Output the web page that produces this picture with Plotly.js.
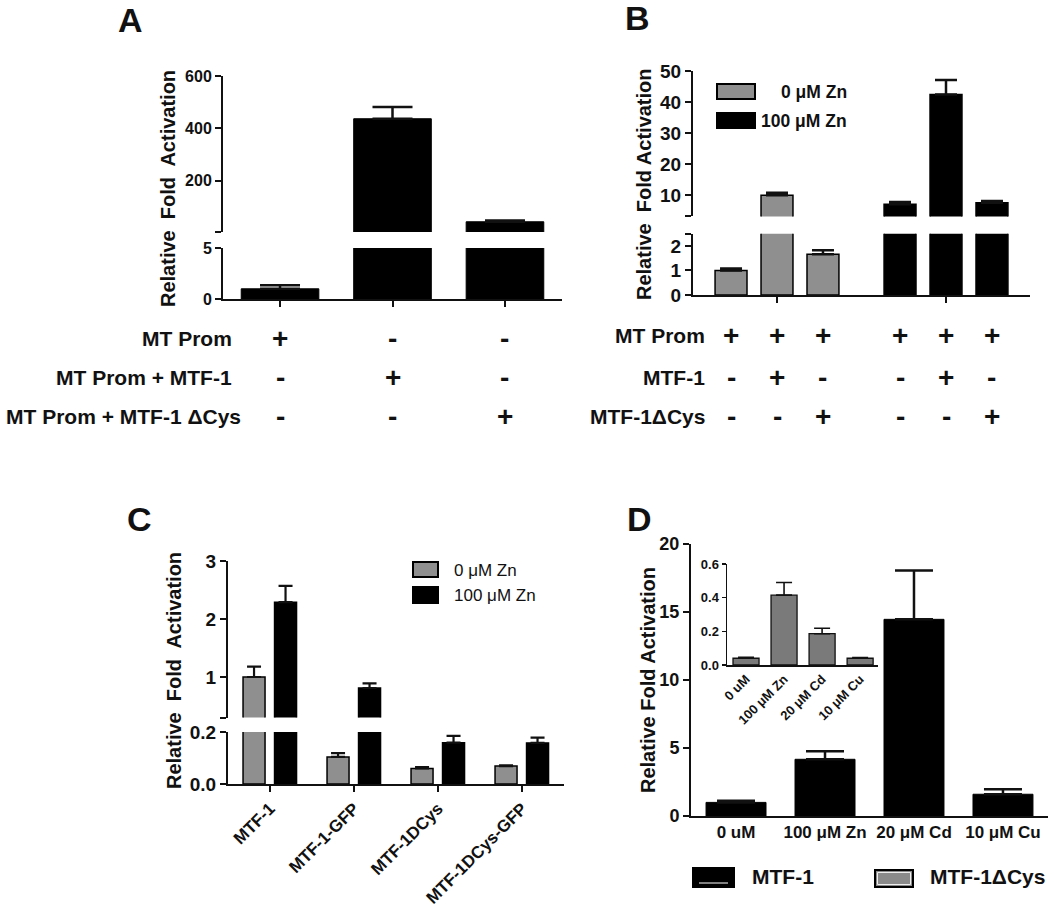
<!DOCTYPE html>
<html>
<head>
<meta charset="utf-8">
<script src="https://cdn.plot.ly/plotly-3.0.1.min.js"></script>
<style>html,body{margin:0;padding:0;background:#fff;}#chart{width:1050px;height:911px;}</style>
</head>
<body>
<div id="chart"></div>
<script>
// ---------- DATA ----------
// Panel A
const aCats = ['MT Prom', 'MT Prom + MTF-1', 'MT Prom + MTF-1 ΔCys'];
const aVals = [1.0, 437, 44];
const aErr = [0.34, 45, 4.5];
const aRowLabels = ['MT Prom', 'MT Prom + MTF-1', 'MT Prom + MTF-1 ΔCys'];
const aSigns = [['+', '-', '-'], ['-', '+', '-'], ['-', '-', '+']];

// Panel B
const bGroups = ['0 μM Zn', '100 μM Zn'];
const bConds = ['MT Prom', 'MTF-1', 'MTF-1ΔCys'];
const bZn0 = [1.0, 9.9, 1.66];
const bZn0Err = [0.08, 0.85, 0.16];
const bZn100 = [7.0, 42.4, 7.5];
const bZn100Err = [0.74, 4.7, 0.6];
const bRowLabels = ['MT Prom', 'MTF-1', 'MTF-1ΔCys'];
const bSigns = [['+', '+', '+'], ['-', '+', '-'], ['-', '-', '+']];

// Panel C
const cCats = ['MTF-1', 'MTF-1-GFP', 'MTF-1DCys', 'MTF-1DCys-GFP'];
const cSeries = ['0 μM Zn', '100 μM Zn'];
const cZn0 = [1.0, 0.104, 0.06, 0.069];
const cZn0Err = [0.18, 0.015, 0.005, 0.003];
const cZn100 = [2.29, 0.81, 0.159, 0.158];
const cZn100Err = [0.28, 0.08, 0.026, 0.02];

// Panel D
const dCats = ['0 uM', '100 μM Zn', '20 μM Cd', '10 μM Cu'];
const dVals = [1.0, 4.17, 14.46, 1.6];
const dErr = [0.12, 0.6, 3.6, 0.36];
const dInsetVals = [0.04, 0.415, 0.186, 0.04];
const dInsetErr = [0.006, 0.075, 0.032, 0.004];
const dLegend = ['MTF-1', 'MTF-1ΔCys'];

// ---------- STYLE / LAYOUT HELPERS ----------
const W = 1050, H = 911;
const px = x => x / W;
const py = y => 1 - y / H;
const FONT = 'Liberation Sans, Arial, Helvetica, sans-serif';
const GRAY = '#8f8f8f';
const INSET_GRAY = '#7a7a7a';
const INK = '#111';

// upper segment of a broken axis only shows values above its lower limit
const above = (vals, lo) => vals.map(v => (v > lo ? v : null));

function errUp(arr, cap, thick) {
  return {type: 'data', symmetric: false, array: arr, arrayminus: arr.map(() => 0),
          color: INK, thickness: thick || 2.5, width: cap};
}
function yAxis(top, bottom, range, tickvals, ticktext, size, anchor, extra) {
  return Object.assign({
    domain: [py(bottom), py(top)], range: range, anchor: anchor,
    tickmode: 'array', tickvals: tickvals, ticktext: ticktext,
    showline: true, linecolor: INK, linewidth: 2, ticks: 'outside', ticklen: 6,
    tickwidth: 2, tickcolor: INK, showgrid: false, zeroline: false, fixedrange: true,
    tickfont: {family: FONT, size: size, weight: 'bold', color: INK}
  }, extra || {});
}
function xAxis(left, right, range, anchor, extra) {
  return Object.assign({
    domain: [px(left), px(right)], range: range, anchor: anchor, type: 'category',
    showline: true, linecolor: INK, linewidth: 2, ticks: 'outside', ticklen: 6,
    tickwidth: 2, tickcolor: INK, showgrid: false, zeroline: false, fixedrange: true,
    showticklabels: false, tickfont: {family: FONT, size: 16, weight: 'bold', color: INK}
  }, extra || {});
}

// ---------- TRACES ----------
const traces = [];
// A (broken axis: lower y9, upper y10)
const aLo = 5;
[['y9', aVals], ['y10', above(aVals, aLo)]].forEach(([ya, v]) => traces.push({
  type: 'bar', x: aCats, y: v, xaxis: 'x7', yaxis: ya, width: 0.69,
  marker: {color: '#000', line: {color: '#000', width: 1}},
  error_y: errUp(aErr, 20), hoverinfo: 'skip'
}));
// B (broken axis: lower y3, upper y4)
const bLo = 3.1;
const bRel = [-0.272, 0, 0.272];
const bW = 0.189;
bConds.forEach((c, j) => {
  const v = [bZn0[j], bZn100[j]];
  [['y3', v], ['y4', above(v, bLo)]].forEach(([ya, yy]) => traces.push({
    type: 'bar', name: c, x: bGroups, y: yy, xaxis: 'x3', yaxis: ya,
    width: bW, offset: bRel[j] - bW / 2,
    marker: {color: [GRAY, '#000'], line: {color: '#000', width: 1.5}},
    error_y: errUp([bZn0Err[j], bZn100Err[j]], 11), hoverinfo: 'skip'
  }));
});
// C (broken axis: lower y5, upper y6)
const cLo = 0.3;
const cW = 0.262;
const cDefs = [
  {name: cSeries[0], y: cZn0, err: cZn0Err, color: GRAY, rel: -0.19},
  {name: cSeries[1], y: cZn100, err: cZn100Err, color: '#000', rel: 0.185}
];
cDefs.forEach(s => [['y5', s.y], ['y6', above(s.y, cLo)]].forEach(([ya, yy]) => traces.push({
  type: 'bar', name: s.name, x: cCats, y: yy, xaxis: 'x4', yaxis: ya,
  width: cW, offset: s.rel - cW / 2,
  marker: {color: s.color, line: {color: '#000', width: 1.5}},
  error_y: errUp(s.err, 7, 2.2), hoverinfo: 'skip'
})));
// D main
traces.push({
  type: 'bar', name: dLegend[0], x: dCats, y: dVals, xaxis: 'x5', yaxis: 'y7', width: 0.674,
  marker: {color: '#000', line: {color: '#000', width: 1}},
  error_y: errUp(dErr, 19), hoverinfo: 'skip'
});
// D inset
traces.push({
  type: 'bar', name: dLegend[1], x: dCats, y: dInsetVals, xaxis: 'x6', yaxis: 'y8', width: 0.684,
  marker: {color: INSET_GRAY, line: {color: '#111', width: 1.3}},
  error_y: errUp(dInsetErr, 8, 1.6), hoverinfo: 'skip'
});

// ---------- ANNOTATIONS ----------
const ann = [];
function txt(x, y, text, size, opts) {
  ann.push(Object.assign({
    xref: 'paper', yref: 'paper', x: px(x), y: py(y), text: text, showarrow: false,
    xanchor: 'center', yanchor: 'middle',
    font: {family: FONT, size: size, weight: 'bold', color: INK}
  }, opts || {}));
}
// panel letters
txt(130, 20, 'A', 34); txt(637, 18, 'B', 34); txt(139, 519, 'C', 34); txt(639, 519, 'D', 34);
// y titles
const dbl = 'Relative\u00a0 Fold\u00a0 Activation';
txt(168, 189, dbl, 20, {textangle: -90});
txt(644, 184, 'Relative\u00a0 Fold Activation', 20, {textangle: -90});
txt(174, 671, dbl, 20, {textangle: -90});
txt(648, 680, 'Relative Fold Activation', 20, {textangle: -90});

// A rows
const aRowY = [338, 378, 416];
const aRowX = [234, 234, 243];
aRowLabels.forEach((t, i) => {
  txt(aRowX[i], aRowY[i], t, 21, {xanchor: 'right'});
  aSigns[i].forEach((s, j) => ann.push({
    xref: 'x7', yref: 'paper', x: aCats[j], y: py(aRowY[i]), text: s, showarrow: false,
    xanchor: 'center', yanchor: 'middle', font: {family: FONT, size: 28, weight: 'bold', color: INK}
  }));
});
// B rows
const bRowY = [335, 377, 416];
bRowLabels.forEach((t, i) => {
  txt(707, bRowY[i], t, 21, {xanchor: 'right'});
  bGroups.forEach((g, gi) => bSigns[i].forEach((s, j) => ann.push({
    xref: 'x3', yref: 'paper', x: gi + bRel[j], y: py(bRowY[i]), text: s, showarrow: false,
    xanchor: 'center', yanchor: 'middle', font: {family: FONT, size: 28, weight: 'bold', color: INK}
  })));
});

// ---------- LEGENDS (drawn) ----------
const shapes = [];
function box(x0, x1, y0, y1, fill, lw) {
  shapes.push({type: 'rect', xref: 'paper', yref: 'paper', x0: px(x0), x1: px(x1), y0: py(y1), y1: py(y0),
               fillcolor: fill, line: {color: '#000', width: lw || 1.5}});
}
// B legend
box(717, 755, 84, 99, GRAY, 2); box(717, 755, 113, 128, '#000', 2);
txt(849, 92, bGroups[0], 17.5, {xanchor: 'right'});
txt(849, 121, bGroups[1], 17.5, {xanchor: 'right'});
// C legend
box(413, 438, 562, 577, GRAY, 2); box(413, 438, 587, 603, '#000', 2);
txt(452, 570, cSeries[0], 17, {xanchor: 'left', font: {family: FONT, size: 17, weight: 'normal', color: INK}});
txt(452, 595, cSeries[1], 17, {xanchor: 'left', font: {family: FONT, size: 17, weight: 'normal', color: INK}});
// D legend
box(693, 734, 868, 887, '#000', 2);
shapes.push({type: 'line', xref: 'paper', yref: 'paper', x0: px(699), x1: px(728), y0: py(883), y1: py(883), line: {color: '#fff', width: 1}});
box(875, 913, 870, 887, '#8a8a8a', 2);
shapes.push({type: 'rect', xref: 'paper', yref: 'paper', x0: px(877.5), x1: px(910.5), y0: py(884.5), y1: py(872.5), fillcolor: 'rgba(0,0,0,0)', line: {color: '#eee', width: 1}});
txt(750, 876, dLegend[0], 21, {xanchor: 'left'});
txt(928, 876, dLegend[1], 21, {xanchor: 'left'});

// ---------- LAYOUT ----------
const layout = {
  width: W, height: H, margin: {l: 0, r: 0, t: 0, b: 0},
  paper_bgcolor: '#fff', plot_bgcolor: 'rgba(0,0,0,0)', showlegend: false,
  barmode: 'group', font: {family: FONT, color: INK},
  // A
  xaxis7: xAxis(223, 562, [-0.507, 2.507], 'y9'),
  yaxis9: yAxis(248, 299, [0, aLo], [0, 5], ['0', '5'], 16, 'x7'),
  yaxis10: yAxis(76, 232, [aLo, 600], [aLo, 200, 400, 600], ['', '200', '400', '600'], 16, 'x7'),
  // B
  xaxis3: xAxis(693, 1030, [-0.497, 1.497], 'y3'),
  yaxis3: yAxis(233.7, 295, [0, 2.5], [0, 1, 2, 2.5], ['0', '1', '2', ''], 19, 'x3'),
  yaxis4: yAxis(71, 216.4, [bLo, 50], [bLo, 10, 20, 30, 40, 50], ['', '10', '20', '30', '40', '50'], 19, 'x3'),
  // C
  xaxis4: xAxis(228, 564, [-0.5, 3.5], 'y5', {showticklabels: true, tickangle: -45,
    tickfont: {family: FONT, size: 17, weight: 'bold', color: INK}}),
  yaxis5: yAxis(732, 784, [0, 0.2], [0, 0.2], ['0.0', '0.2'], 19, 'x4'),
  yaxis6: yAxis(561, 717.6, [cLo, 3], [cLo, 1, 2, 3], ['', '1', '2', '3'], 19, 'x4'),
  // D
  xaxis5: xAxis(691, 1048, [-0.506, 3.506], 'y7', {showticklabels: true, ticks: '',
    tickfont: {family: FONT, size: 17, weight: 'bold', color: INK}}),
  yaxis7: yAxis(544, 816, [0, 20], [0, 5, 10, 15, 20], ['0', '5', '10', '15', '20'], 18, 'x5'),
  // D inset
  xaxis6: xAxis(727, 878, [-0.5, 3.47], 'y8', {showticklabels: true, ticks: '', tickangle: -45, linewidth: 1.5,
    tickfont: {family: FONT, size: 13, weight: 'bold', color: INK}}),
  yaxis8: yAxis(564, 665, [0, 0.6], [0, 0.2, 0.4, 0.6], ['0.0', '0.2', '0.4', '0.6'], 13, 'x6',
    {linewidth: 1.5, ticklen: 4, tickwidth: 1.5}),
  annotations: ann,
  shapes: shapes
};

Plotly.newPlot('chart', traces, layout, {staticPlot: true, displayModeBar: false});
</script>
</body>
</html>
